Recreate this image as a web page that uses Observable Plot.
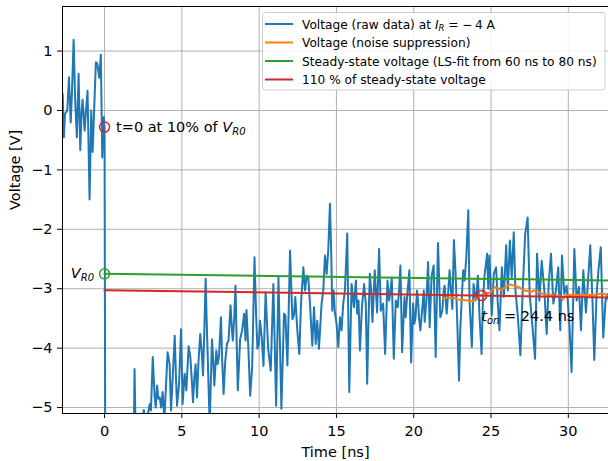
<!DOCTYPE html>
<html>
<head>
<meta charset="utf-8">
<script src="https://cdn.jsdelivr.net/npm/d3@7"></script>
<script src="https://cdn.jsdelivr.net/npm/@observablehq/plot@0.6"></script>
<style>
  html, body { margin: 0; padding: 0; background: white; }
  #chart { width: 608px; height: 461px; }
</style>
</head>
<body>
<div id="chart"></div>
<script>
// ---- data ----
const rawTime = [
  -2.71,-2.63,-2.56,-2.41,-2.30,-2.19,-2.11,-2.00,-1.90,-1.79,-1.68,-1.57,-1.49,-1.42,-1.29,-1.20,-1.10,-0.97,-0.86,-0.77,
  -0.65,-0.56,-0.47,-0.34,-0.24,-0.15,-0.05,0.00,0.05,0.5,1.0,1.5,1.88,1.94,2.02,2.32,2.54,2.65,2.93,3.00,
  3.12,3.23,3.31,3.40,3.48,3.57,3.66,3.76,3.87,3.98,4.08,4.21,4.30,4.41,4.54,4.62,4.69,4.82,4.95,5.05,
  5.18,5.29,5.44,5.55,5.66,5.72,5.81,5.89,5.98,6.08,6.19,6.28,6.37,6.45,6.54,6.60,6.67,6.80,6.95,7.03,
  7.10,7.23,7.31,7.40,7.53,7.61,7.70,7.81,7.92,8.02,8.15,8.24,8.30,8.39,8.47,8.56,8.62,8.71,8.77,8.90,
  9.03,9.12,9.18,9.31,9.42,9.55,9.70,9.81,9.89,9.98,10.06,10.17,10.28,10.42,10.58,10.75,10.92,11.10,11.25,11.44,
  11.61,11.70,11.83,12.00,12.15,12.25,12.34,12.47,12.60,12.71,12.86,12.97,13.08,13.18,13.29,13.44,13.55,13.66,13.76,13.87,
  14.04,14.15,14.26,14.37,14.47,14.58,14.67,14.73,14.82,14.90,15.01,15.12,15.23,15.33,15.44,15.55,15.70,15.83,15.98,16.13,
  16.26,16.34,16.43,16.52,16.65,16.79,16.90,16.99,17.07,17.16,17.25,17.33,17.48,17.63,17.76,17.87,18.02,18.15,18.30,18.41,
  18.50,18.58,18.71,18.84,18.97,19.05,19.14,19.25,19.40,19.48,19.57,19.72,19.83,19.96,20.04,20.12,20.21,20.28,20.34,20.43,
  20.56,20.65,20.71,20.82,20.93,21.03,21.16,21.29,21.42,21.57,21.72,21.85,21.94,22.00,22.13,22.24,22.32,22.41,22.50,22.60,
  22.71,22.82,22.93,23.01,23.08,23.20,23.29,23.40,23.53,23.61,23.76,23.87,24.00,24.08,24.15,24.26,24.39,24.47,24.58,24.75,
  24.82,24.90,25.05,25.18,25.33,25.44,25.55,25.70,25.83,25.98,26.09,26.22,26.34,26.47,26.58,26.73,26.90,27.05,27.21,27.37,
  27.50,27.63,27.85,27.98,28.13,28.28,28.45,28.60,28.73,28.88,29.03,29.20,29.35,29.48,29.59,29.74,29.89,30.06,30.21,30.39,
  30.54,30.69,30.82,30.97,31.14,31.29,31.42,31.57,31.68,31.83,31.95,32.10,32.26,32.41,32.52,32.70
];
const rawVoltage = [
  0.28,-0.45,-0.06,0.00,0.56,-0.20,0.28,1.19,0.17,-0.45,0.62,-0.67,-0.05,0.18,-0.34,0.00,0.33,-1.50,0.00,-0.70,
  0.17,0.81,0.79,0.55,0.94,-0.79,-0.11,-0.28,-6.5,-7.0,-6.8,-6.5,-5.8,-4.35,-5.6,-5.5,-5.04,-5.3,-4.94,-5.05,
  -4.15,-4.77,-5.00,-4.63,-4.85,-4.83,-5.00,-4.74,-5.20,-4.60,-4.07,-4.27,-5.05,-4.49,-3.79,-4.49,-4.97,-4.60,-3.68,-4.94,
  -4.43,-4.71,-3.97,-4.15,-4.60,-4.91,-4.49,-4.27,-4.83,-4.21,-3.76,-4.04,-4.46,-3.76,-2.83,-3.48,-4.10,-5.30,-3.85,-4.21,
  -4.63,-4.04,-4.27,-4.15,-3.48,-4.21,-4.77,-4.21,-3.93,-3.87,-3.28,-3.70,-3.87,-3.48,-2.95,-4.04,-4.71,-4.21,-3.85,-3.70,
  -3.42,-3.87,-3.36,-4.04,-4.80,-4.32,-2.47,-3.48,-4.01,-3.93,-3.54,-3.82,-4.30,-3.06,-4.00,-4.38,-2.92,-4.97,-2.81,-5.02,
  -3.42,-3.45,-4.29,-2.36,-3.51,-3.45,-3.14,-3.70,-4.10,-3.25,-2.64,-3.03,-2.78,-2.81,-3.25,-3.96,-3.31,-3.93,-3.54,-4.01,
  -3.25,-3.03,-2.44,-2.75,-2.36,-1.57,-2.47,-3.37,-3.03,-3.40,-3.59,-3.98,-3.48,-3.70,-3.25,-3.03,-2.07,-4.74,-2.92,-3.31,
  -2.86,-3.42,-3.20,-4.04,-3.31,-2.92,-3.25,-4.60,-3.59,-2.75,-3.03,-3.56,-2.69,-3.40,-2.33,-3.37,-3.25,-4.10,-2.86,-3.20,
  -3.03,-2.81,-4.18,-3.20,-3.31,-3.03,-2.61,-4.07,-3.14,-3.48,-3.14,-2.69,-4.24,-3.25,-3.59,-3.48,-3.03,-3.20,-3.48,-3.70,
  -3.31,-3.03,-3.56,-3.20,-2.55,-3.65,-2.78,-2.61,-4.15,-2.23,-3.48,-3.37,-3.03,-2.95,-3.42,-3.03,-2.69,-3.03,-3.34,-2.18,
  -2.75,-3.59,-4.55,-3.70,-3.31,-2.69,-2.86,-2.47,-1.68,-3.20,-3.98,-2.92,-3.20,-3.03,-2.78,-3.48,-4.10,-3.25,-2.78,-2.41,
  -3.00,-2.44,-3.45,-2.75,-2.64,-3.25,-3.70,-2.64,-3.14,-2.27,-3.03,-2.19,-2.81,-2.05,-3.03,-3.45,-4.12,-3.03,-2.08,-1.80,
  -3.09,-3.48,-4.18,-2.41,-3.20,-2.53,-3.03,-3.76,-2.92,-2.41,-3.25,-3.03,-2.64,-3.70,-2.44,-3.09,-2.95,-3.54,-4.40,-2.33,
  -3.20,-2.97,-3.70,-2.69,-3.40,-2.81,-2.27,-3.25,-4.20,-3.09,-2.69,-2.30,-3.82,-3.20,-3.09,-3.30
];
const smoothTime = [21.89,22.2,22.54,22.85,23.18,23.5,23.83,24.04,24.37,24.58,25.0,25.23,25.44,25.66,25.87,26.19,26.52,26.84,27.16,27.59,27.8,28.13,28.45,28.77,29.1,29.42,29.63,29.85,30.28,30.82,31.25,31.68,32.1,32.5,32.8];
const smoothVoltage = [-3.17,-3.15,-3.15,-3.18,-3.19,-3.20,-3.21,-3.15,-3.11,-3.09,-3.06,-2.97,-2.99,-3.03,-2.98,-2.93,-2.95,-2.98,-3.03,-3.05,-3.03,-3.06,-3.10,-3.09,-3.13,-3.11,-3.19,-3.11,-3.10,-3.11,-3.10,-3.11,-3.08,-3.10,-3.10];
const fitTime = [0, 32.6];
const fitVoltage = [-2.75, -2.86];
const thresholdFactor = 1.1;
const vR0 = -2.75;
const t10Voltage = -0.28;
const tOn = 24.4;
const xTicks = [0, 5, 10, 15, 20, 25, 30];
const yTicks = [-5, -4, -3, -2, -1, 0, 1];
const xDomain = [-2.72, 32.6];
const yDomain = [-5.1, 1.75];
const legendLabels = [
  "Voltage (raw data) at ",
  "Voltage (noise suppression)",
  "Steady-state voltage (LS-fit from 60 ns to 80 ns)",
  "110 % of steady-state voltage"
];
const colors = ["#1f77b4", "#ff7f0e", "#2ca02c", "#d62728"];

// ---- build tables ----
const raw = rawTime.map((t, i) => ({t, v: rawVoltage[i]}));
const smooth = smoothTime.map((t, i) => ({t, v: smoothVoltage[i]}));
const fit = fitTime.map((t, i) => ({t, v: fitVoltage[i]}));
const fit110 = fitTime.map((t, i) => ({t, v: fitVoltage[i] * thresholdFactor}));
const fitAt = (t) => fitVoltage[0] + (fitVoltage[1] - fitVoltage[0]) * (t - fitTime[0]) / (fitTime[1] - fitTime[0]);
const tOnV = fitAt(tOn) * thresholdFactor;
const markers = [
  {t: 0, v: t10Voltage, c: colors[3]},
  {t: 0, v: vR0, c: colors[2]},
  {t: tOn, v: tOnV, c: colors[3]}
];
const fmt = d => d < 0 ? "\u2212" + Math.abs(d) : String(d);
const grid = {stroke: "#b0b0b0", strokeOpacity: 1, strokeWidth: 1};
const FS = 14.5;

const plot = Plot.plot({
  width: 608, height: 461,
  marginLeft: 62, marginRight: 0, marginTop: 6, marginBottom: 48,
  x: {domain: xDomain},
  y: {domain: yDomain},
  style: {fontFamily: "'DejaVu Sans', sans-serif", fontSize: FS + "px", color: "black", background: "white"},
  marks: [
    Plot.gridX(xTicks, grid),
    Plot.gridY(yTicks, grid),
    Plot.line(raw, {x: "t", y: "v", stroke: colors[0], strokeWidth: 2, clip: true}),
    Plot.line(smooth, {x: "t", y: "v", stroke: colors[1], strokeWidth: 2, clip: true}),
    Plot.line(fit, {x: "t", y: "v", stroke: colors[2], strokeWidth: 2, clip: true}),
    Plot.line(fit110, {x: "t", y: "v", stroke: colors[3], strokeWidth: 2, clip: true}),
    Plot.dot(markers, {x: "t", y: "v", r: 5, stroke: "c", fill: "none", strokeWidth: 1.5}),
    Plot.ruleX([xDomain[0]], {stroke: "black", strokeWidth: 1}),
    Plot.ruleY(yDomain, {stroke: "black", strokeWidth: 1}),
    Plot.axisX({ticks: xTicks, tickFormat: fmt, tickSize: 5, tickPadding: 7, label: null, stroke: "black", fontSize: FS}),
    Plot.axisY({ticks: yTicks, tickFormat: fmt, tickSize: 5, tickPadding: 5, label: null, stroke: "black", fontSize: FS}),
    Plot.text(["Time [ns]"], {text: d => d, frameAnchor: "bottom", dy: 43, fontSize: FS, fill: "black"}),
    Plot.text(["Voltage [V]"], {text: d => d, frameAnchor: "left", dx: -47, rotate: -90, fontSize: FS, fill: "black"})
  ]
});

const svg = d3.select(plot);
const sx = plot.scale("x"), sy = plot.scale("y");

function addSub(textSel, main, sub, size, drop) {
  textSel.append("tspan").attr("font-style", "italic").text(main);
  textSel.append("tspan").attr("font-style", "italic").attr("font-size", size).attr("dy", drop).text(sub);
}

// annotation: t=0 at 10% of V_R0
{
  const t = svg.append("text").attr("x", sx.apply(0) + 12).attr("y", sy.apply(t10Voltage) + 5)
    .attr("font-size", FS).attr("fill", "black").attr("text-anchor", "start");
  t.append("tspan").text("t=0 at 10% of ");
  addSub(t, "V", "R0", 10, 3);
}
// annotation: V_R0
{
  const t = svg.append("text").attr("x", sx.apply(0) - 10).attr("y", sy.apply(vR0) + 4.5)
    .attr("font-size", FS).attr("fill", "black").attr("text-anchor", "end");
  addSub(t, "V", "R0", 10, 3);
}
// annotation: t_on = 24.4 ns
{
  const t = svg.append("text").attr("x", sx.apply(tOn)).attr("y", sy.apply(tOnV) + 26)
    .attr("font-size", FS).attr("fill", "black").attr("text-anchor", "start");
  addSub(t, "t", "on", 10, 3);
  t.append("tspan").attr("dy", -3).text(" = " + tOn + " ns");
}

// legend
{
  const g = svg.append("g").attr("font-size", 12.2).attr("fill", "black").attr("text-anchor", "start");
  g.append("rect").attr("x", 262.5).attr("y", 12.5).attr("width", 342.5).attr("height", 77.5).attr("rx", 3)
    .attr("fill", "white").attr("fill-opacity", 0.85).attr("stroke", "#cccccc").attr("stroke-width", 1);
  legendLabels.forEach((lab, i) => {
    const yy = 24 + i * 18.5;
    g.append("line").attr("x1", 265).attr("x2", 293).attr("y1", yy).attr("y2", yy)
      .attr("stroke", colors[i]).attr("stroke-width", 2);
    const t = g.append("text").attr("x", 302).attr("y", yy + 4.5);
    t.append("tspan").text(lab);
    if (i === 0) {
      t.append("tspan").attr("font-style", "italic").text("I");
      t.append("tspan").attr("font-style", "italic").attr("font-size", 8.5).attr("dy", 2.5).text("R");
      t.append("tspan").attr("dy", -2.5).text(" = \u2212\u20094 A");
    }
  });
}

document.getElementById("chart").appendChild(plot);
</script>
</body>
</html>
